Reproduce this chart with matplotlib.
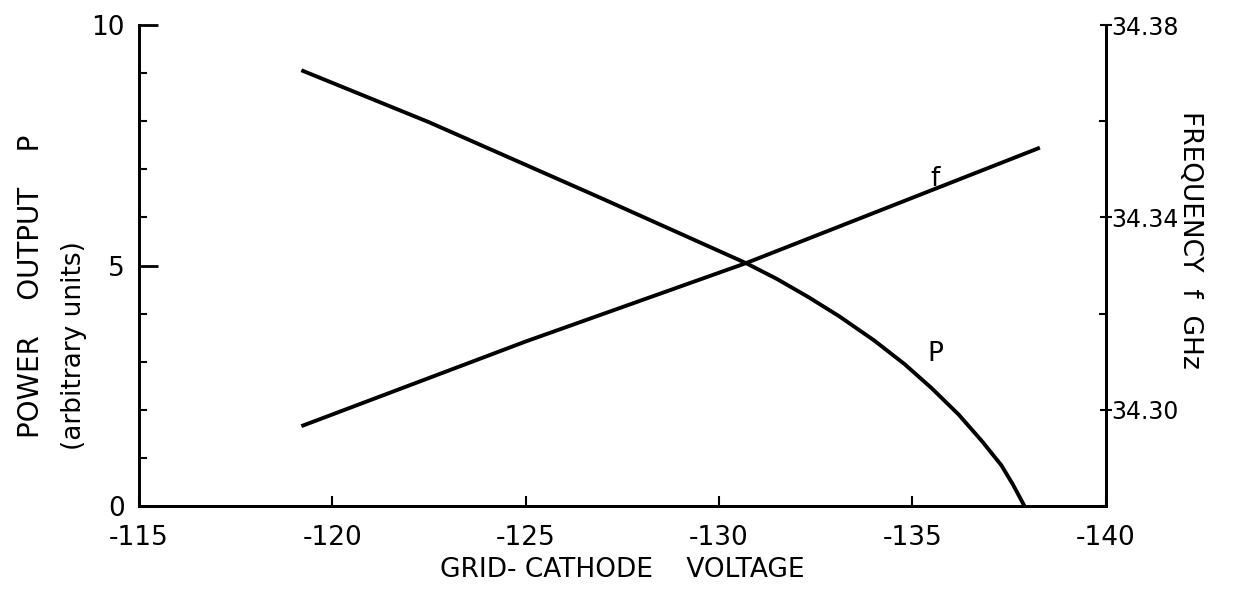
import matplotlib
matplotlib.use("Agg")
import matplotlib.pyplot as plt
from matplotlib.ticker import MultipleLocator

# power output P (arbitrary units) against grid-cathode voltage
p_volts = [-119.2, -122.5, -126.9, -130.7, -131.5, -132.3, -133.1, -134.0,
           -134.8, -135.5, -136.2, -136.8, -137.3, -137.6, -137.9]
p_power = [9.06, 7.98, 6.42, 5.05, 4.72, 4.35, 3.95, 3.45,
           2.95, 2.45, 1.9, 1.35, 0.85, 0.45, 0.0]

# frequency f (GHz)
f_volts = [-119.2, -125.0, -130.7, -138.3]
f_ghz = [34.2966, 34.3142, 34.3305, 34.3545]

x_ticks = [-115, -120, -125, -130, -135, -140]
x_labels = ["-115", "-120", "-125", "-130", "-135", "-140"]
p_ticks = [0, 5, 10]
f_ticks = [34.30, 34.34, 34.38]
f_labels = ["34.30", "34.34", "34.38"]

fs = 19
plt.rcParams["font.family"] = "DejaVu Sans"

fig = plt.figure(figsize=(12.33, 5.96), dpi=100)
ax = fig.add_axes([0.1127, 0.151, 0.784, 0.807])
ax2 = ax.twinx()

ax.plot(p_volts, p_power, color="black", lw=2.8, solid_capstyle="butt")
ax2.plot(f_volts, f_ghz, color="black", lw=2.8, solid_capstyle="butt")

ax.set_xlim(-115, -140)
ax.set_ylim(0, 10)
ax2.set_ylim(34.28, 34.38)

ax.set_xticks(x_ticks)
ax.set_xticklabels(x_labels, fontsize=fs)
ax.set_yticks(p_ticks)
ax.set_yticklabels([str(t) for t in p_ticks], fontsize=fs)
ax.yaxis.set_minor_locator(MultipleLocator(1))
ax2.set_yticks(f_ticks)
ax2.set_yticklabels(f_labels, fontsize=17)
ax2.yaxis.set_minor_locator(MultipleLocator(0.02))

ax.tick_params(axis="x", direction="in", length=7, width=1.5, pad=14)
ax.tick_params(axis="y", which="major", direction="in", length=14, width=2, pad=10)
ax.tick_params(axis="y", which="minor", direction="in", length=6, width=1.5)
ax2.tick_params(axis="y", which="major", direction="inout", length=8, width=1.5, pad=0)
ax2.tick_params(axis="y", which="minor", direction="in", length=5, width=1.5)

for a in (ax, ax2):
    a.spines["top"].set_visible(False)
    for s in ("left", "right", "bottom"):
        a.spines[s].set_linewidth(2)

ax.text(-135.6, 6.8, "f", fontsize=fs, ha="center", va="center")
ax.text(-135.6, 3.15, "P", fontsize=fs, ha="center", va="center")

ax.set_xlabel("GRID- CATHODE    VOLTAGE", fontsize=fs, labelpad=4)
fig.text(0.025, 0.52, "POWER    OUTPUT    P", rotation=90, fontsize=20,
         ha="center", va="center")
fig.text(0.06, 0.42, "(arbitrary units)", rotation=90, fontsize=19,
         ha="center", va="center")
fig.text(0.965, 0.597, "FREQUENCY  f  GHz", rotation=-90, fontsize=19,
         ha="center", va="center")

fig.savefig("out.png", dpi=100)
